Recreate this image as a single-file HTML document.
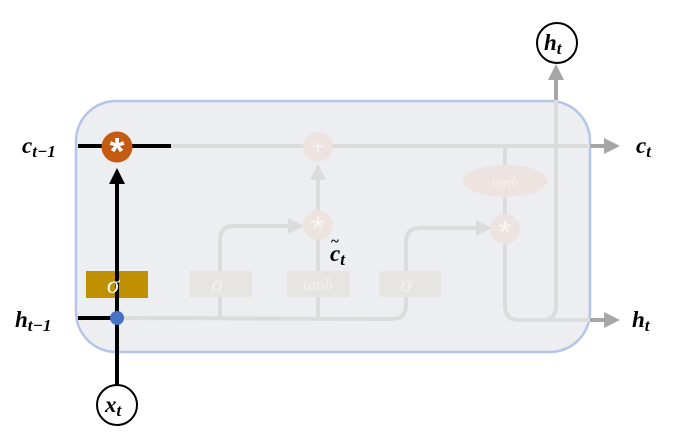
<!DOCTYPE html>
<html><head><meta charset="utf-8"><style>
html,body{margin:0;padding:0;background:#fff;}
svg{display:block;font-family:"Liberation Serif","DejaVu Serif",serif;}
.lbl{font-weight:bold;font-style:italic;font-size:23px;fill:#000;}
.sub{font-size:17px;}
</style></head><body>
<svg width="677" height="447" viewBox="0 0 677 447">
<defs>
<marker id="ag" markerWidth="4" markerHeight="4" refX="2" refY="2" orient="auto" markerUnits="strokeWidth"><path d="M0,0L4,2L0,4z" fill="#a6a6a6"/></marker>
<marker id="al" markerWidth="4" markerHeight="4" refX="2" refY="2" orient="auto" markerUnits="strokeWidth"><path d="M0,0L4,2L0,4z" fill="#dcdcdc"/></marker>
<marker id="ab" markerWidth="4" markerHeight="4" refX="2" refY="2" orient="auto" markerUnits="strokeWidth"><path d="M0,0L4,2L0,4z" fill="#000"/></marker>
</defs>
<line x1="556" y1="110" x2="556" y2="72" stroke="#a6a6a6" stroke-width="4" marker-end="url(#ag)"/>
<rect x="76" y="101" width="514" height="251" rx="40" fill="#ecedf0" fill-opacity="0.95" stroke="#b4c6e7" stroke-width="2.5"/>
<g fill="none" stroke="#dcdcdc" stroke-width="4">
<line x1="170" y1="146" x2="590" y2="146"/>
<line x1="117" y1="318" x2="392" y2="319"/>
<path d="M220,318 V240 Q220,226 234,226 H296" marker-end="url(#al)"/>
<path d="M318,318 V239"/>
<path d="M318,211 V172" marker-end="url(#al)"/>
<path d="M392,319 Q406,319 406,305 V242 Q406,228 420,228 H484" marker-end="url(#al)"/>
<path d="M505,146 V306 Q505,320 519,320 H542 Q556,320 556,306 V100"/>
<line x1="540" y1="320" x2="590" y2="320"/>
</g>
<ellipse cx="505" cy="181" rx="42" ry="16" fill="#ede3e0"/>
<text x="505" y="187" text-anchor="middle" font-style="italic" font-size="15" fill="#f5f2f0">tanh</text>
<circle cx="318" cy="147" r="15" fill="#ede3e0"/>
<text x="318" y="154" text-anchor="middle" font-size="22" fill="#f8f4f2">+</text>
<circle cx="318" cy="225" r="15" fill="#ede3e0"/>
<text x="318" y="240" text-anchor="middle" font-size="34" fill="#f8f4f2" font-family="Liberation Sans">*</text>
<circle cx="505" cy="229" r="15" fill="#ede3e0"/>
<text x="505" y="244" text-anchor="middle" font-size="34" fill="#f8f4f2" font-family="Liberation Sans">*</text>
<rect x="190" y="271" width="62" height="26" fill="#e6e5e1"/>
<text x="217" y="292" text-anchor="middle" font-style="italic" font-size="24" fill="#f2f1ee">σ</text>
<rect x="287" y="271" width="63" height="26" fill="#e6e5e1"/>
<text x="318" y="290" text-anchor="middle" font-style="italic" font-size="17" fill="#f2f1ee">tanh</text>
<rect x="379" y="271" width="62" height="26" fill="#e6e5e1"/>
<text x="406" y="292" text-anchor="middle" font-style="italic" font-size="24" fill="#f2f1ee">σ</text>
<line x1="590" y1="146" x2="612" y2="146" stroke="#a6a6a6" stroke-width="4" marker-end="url(#ag)"/>
<line x1="590" y1="320" x2="612" y2="320" stroke="#a6a6a6" stroke-width="4" marker-end="url(#ag)"/>
<line x1="78" y1="146" x2="171" y2="146" stroke="#000" stroke-width="4"/>
<line x1="78" y1="318" x2="117" y2="318" stroke="#000" stroke-width="4"/>
<line x1="117" y1="385" x2="117" y2="176" stroke="#000" stroke-width="4" marker-end="url(#ab)"/>
<rect x="86" y="271" width="62" height="27" fill="#bf9000"/>
<line x1="117" y1="271" x2="117" y2="298" stroke="#000" stroke-width="4"/>
<text x="113" y="293" text-anchor="middle" font-style="italic" font-size="25" fill="#fff">σ</text>
<circle cx="117" cy="318" r="7" fill="#4472c4"/>
<circle cx="117" cy="147" r="15.5" fill="#c55a11"/>
<text x="117" y="164" text-anchor="middle" font-size="38" font-weight="bold" fill="#fff" font-family="Liberation Sans">*</text>
<circle cx="117" cy="405" r="20" fill="#fff" stroke="#000" stroke-width="2"/>
<text x="105" y="412" class="lbl">x<tspan class="sub" dy="4">t</tspan></text>
<circle cx="557" cy="43" r="20" fill="#fff" stroke="#000" stroke-width="2"/>
<text x="544" y="50" class="lbl">h<tspan class="sub" dy="4">t</tspan></text>
<text x="22" y="153" class="lbl">c<tspan class="sub" dy="4">t−1</tspan></text>
<text x="15" y="327" class="lbl">h<tspan class="sub" dy="4">t−1</tspan></text>
<text x="636" y="153" class="lbl">c<tspan class="sub" dy="4">t</tspan></text>
<text x="632" y="327" class="lbl">h<tspan class="sub" dy="4">t</tspan></text>
<text x="330" y="261" class="lbl">c<tspan class="sub" dy="4">t</tspan></text>
<text x="331" y="246" font-size="15" font-weight="bold">~</text>
</svg>
</body></html>
